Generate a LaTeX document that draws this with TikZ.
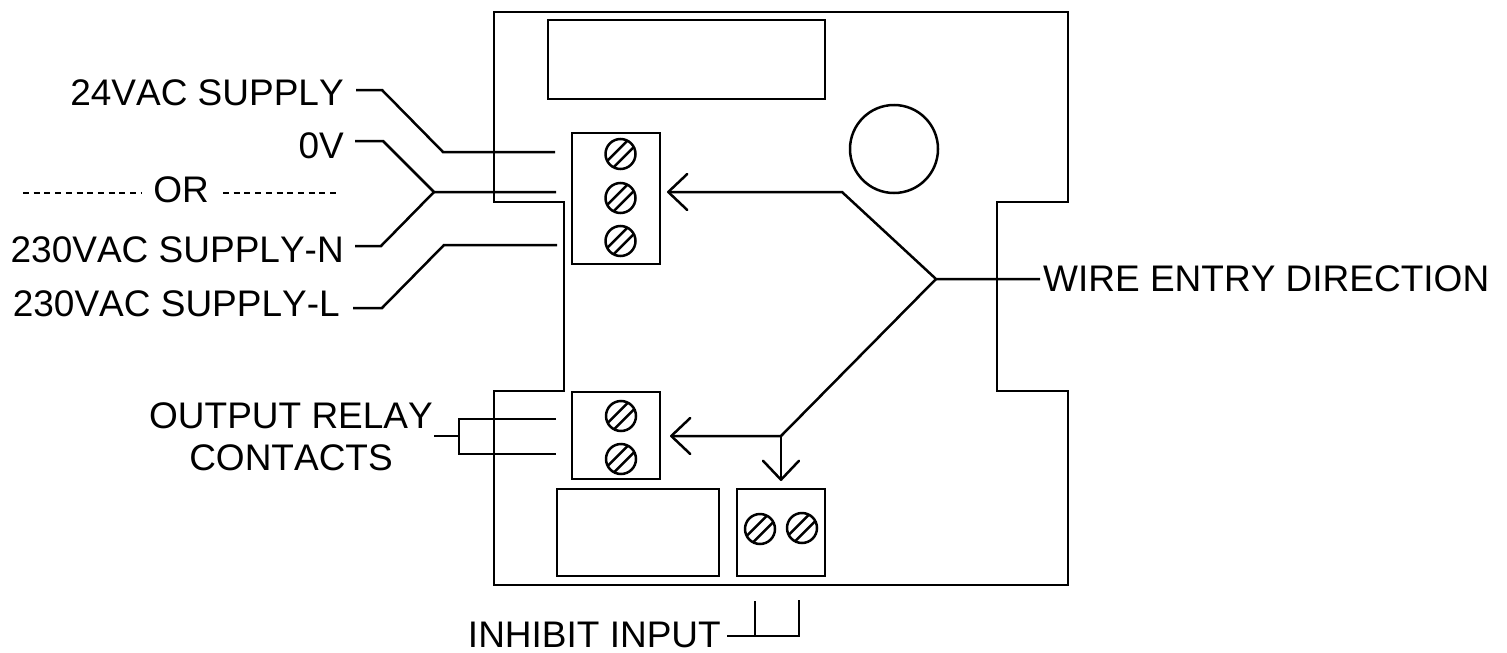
\documentclass[tikz,border=0pt]{standalone}
\usepackage{fontspec}
\setmainfont[Kerning=Off]{Liberation Sans}
\usetikzlibrary{arrows.meta}
\tikzset{
  wire/.style={line width=2.5pt,line join=miter,black},
  lbl/.style={inner sep=0pt,font=\fontsize{37}{40}\selectfont,text=black},
  orline/.style={line width=1.6pt,dash pattern=on 6pt off 4.7pt},
  barb/.style={-{Straight Barb[length=19pt,width=36pt,line width=2.5pt,round=false]}},
  screwn/.style={draw,circle,line width=2.5pt,inner sep=0pt,minimum size=30pt}
}
\newcommand{\screwat}[3]{%
  \node[screwn] (#1) at (#2,#3) {};
  \draw[line width=2.5pt] (#2-6.9,#3+13.3) -- (#2+13.3,#3-6.9);
  \draw[line width=2.5pt] (#2-13.3,#3+6.9) -- (#2+6.9,#3-13.3);
}
\begin{document}
\begin{tikzpicture}[x=1pt,y=-1pt]
\useasboundingbox (0,0) rectangle (1507,653);
% board outline
\draw[wire] (494,12) -- (1068,12) -- (1068,202) -- (997,202) -- (997,391) -- (1068,391) -- (1068,585) -- (494,585) -- (494,391) -- (564,391) -- (564,202) -- (494,202) -- cycle;
% blocks
\node[draw,line width=2.5pt,inner sep=0pt,minimum width=277pt,minimum height=79pt] (display) at (686.5,59.5) {};
\node[draw,circle,line width=2.5pt,inner sep=0pt,minimum size=88pt] (knob) at (894,149) {};
\node[draw,line width=2.5pt,inner sep=0pt,minimum width=88pt,minimum height=131pt] (term1) at (616,198.5) {};
\node[draw,line width=2.5pt,inner sep=0pt,minimum width=88pt,minimum height=87pt] (term2) at (616,435.5) {};
\node[draw,line width=2.5pt,inner sep=0pt,minimum width=162pt,minimum height=87pt] (relay) at (638,532.5) {};
\node[draw,line width=2.5pt,inner sep=0pt,minimum width=88pt,minimum height=87pt] (term3) at (781,532.5) {};
% screws
\screwat{sa}{620.5}{154}
\screwat{sb}{620.5}{198}
\screwat{sc}{620.5}{241}
\screwat{sd}{621}{416}
\screwat{se}{621}{459}
\screwat{sf}{760}{529}
\screwat{sg}{802}{528}
% labels
\node[lbl,anchor=base east] (l24) at (344,105) {24VAC SUPPLY};
\node[lbl,anchor=base east] (l0) at (344,158) {0V};
\node[lbl,anchor=base] (lor) at (181,202) {OR};
\node[lbl,anchor=base east] (ln) at (344,262) {230VAC SUPPLY-N};
\node[lbl,anchor=base east] (ll) at (340,316) {230VAC SUPPLY-L};
\node[lbl,anchor=base] (lout) at (291,428) {OUTPUT RELAY};
\node[lbl,anchor=base] (lcon) at (291,470) {CONTACTS};
\node[lbl,anchor=base west] (lwire) at (1043,291) {WIRE ENTRY DIRECTION};
\node[lbl,anchor=base east] (linh) at (721,647.5) {INHIBIT INPUT};
% free ends and junctions
\coordinate (w24s) at (356,90);
\coordinate (w24e) at (555,152);
\coordinate (w0s) at (355,141);
\coordinate (jn) at (434,192);
\coordinate (w0e) at (556,192);
\coordinate (wns) at (355,246);
\coordinate (wls) at (353,308);
\coordinate (wle) at (557,245);
\coordinate (ro) at (434,436);
\coordinate (rj) at (459,436);
\coordinate (rt) at (459,419);
\coordinate (rb) at (459,454);
\coordinate (rte) at (556,419);
\coordinate (rbe) at (556,454);
\coordinate (we) at (1040,279);
\coordinate (wj) at (936,279);
\coordinate (a1) at (667,192);
\coordinate (wj2) at (781,436);
\coordinate (a2) at (670,436);
\coordinate (a3) at (781,481);
\coordinate (is) at (727,636);
\coordinate (ic) at (799,636);
\coordinate (ie) at (799,600);
\coordinate (ij) at (755,636);
\coordinate (ie2) at (755,601);
\coordinate (or1a) at (23,193);
\coordinate (or1b) at (141,193);
\coordinate (or2a) at (223,193);
\coordinate (or2b) at (336,193);
% connectors
\draw[wire] (w24s) -- (382,90) -- (443,152) -- (w24e);
\draw[wire] (w0s) -- (383,141) -- (jn) -- (w0e);
\draw[wire] (wns) -- (381,246) -- (jn);
\draw[wire] (wls) -- (382,308) -- (444,245) -- (wle);
\draw[orline] (or1a) -- (or1b);
\draw[orline] (or2a) -- (or2b);
\draw[wire] (ro) -- (rj);
\draw[wire] (rte) -- (rt) -- (rb) -- (rbe);
\draw[wire,barb] (we) -- (wj) -- (842,192) -- (a1);
\draw[wire,barb] (wj) -- (wj2) -- (a2);
\draw[wire,barb] (wj2) -- (a3);
\draw[wire] (is) -- (ic) -- (ie);
\draw[wire] (ij) -- (ie2);
\end{tikzpicture}
\end{document}
